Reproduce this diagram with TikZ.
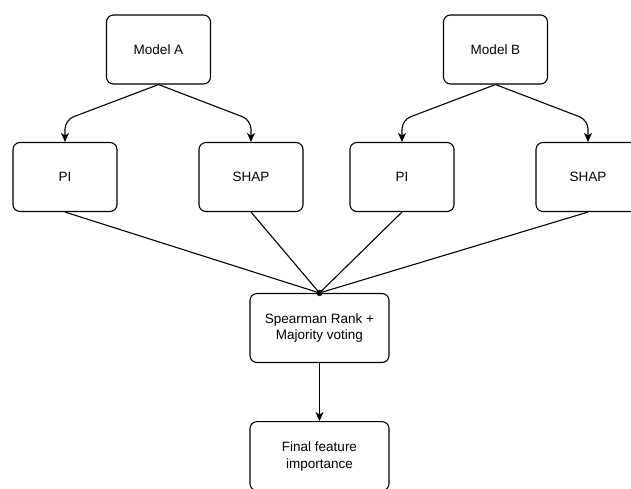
\documentclass[tikz,border=0pt]{standalone}
\usepackage{fontspec}
\setmainfont{Liberation Sans}
\usepackage{tikz}
\usetikzlibrary{arrows.meta, positioning}

\begin{document}
\begin{tikzpicture}[
      x=1pt, y=-1pt,
      font=\fontsize{13.5}{17}\selectfont,
      block/.style={draw, rounded corners=7pt, fill=white, line width=1.1pt, minimum width=104pt, minimum height=69pt, align=center},
      wide/.style={block, minimum width=139pt},
      arrow/.style={-{Stealth[length=9pt, width=8pt, inset=2.5pt]}, line width=1.1pt},
      link/.style={line width=1.1pt}
    ]
      \useasboundingbox (0,0) rectangle (631,488);

      \node[block] (modela) at (158.5,49.5) {Model A};
      \node[block] (modelb) at (495.5,49.5) {Model B};
      \node[block] (pia) at (65,177) {PI};
      \node[block] (shapa) at (251,177) {SHAP};
      \node[block] (pib) at (402,177) {PI};
      \node[block] (shapb) at (588,177) {SHAP};
      \node[wide] (rank) at (319.5,328) {Spearman Rank +\\Majority voting};
      \node[wide, below=58pt of rank] (final) {Final feature\\importance};

      \draw[arrow, rounded corners=9pt] (modela.south) -- (pia.north |- 0,120) -- (pia.north);
      \draw[arrow, rounded corners=9pt] (modela.south) -- (shapa.north |- 0,120) -- (shapa.north);
      \draw[arrow, rounded corners=9pt] (modelb.south) -- (pib.north |- 0,120) -- (pib.north);
      \draw[arrow, rounded corners=9pt] (modelb.south) -- (shapb.north |- 0,120) -- (shapb.north);

      \draw[link] (pia.south) -- (rank.north);
      \draw[link] (shapa.south) -- (rank.north);
      \draw[link] (pib.south) -- (rank.north);
      \draw[link] (shapb.south) -- (rank.north);
      \fill (rank.north) circle (3.2pt);

      \draw[arrow] (rank) -- (final);
    \end{tikzpicture}
\end{document}
